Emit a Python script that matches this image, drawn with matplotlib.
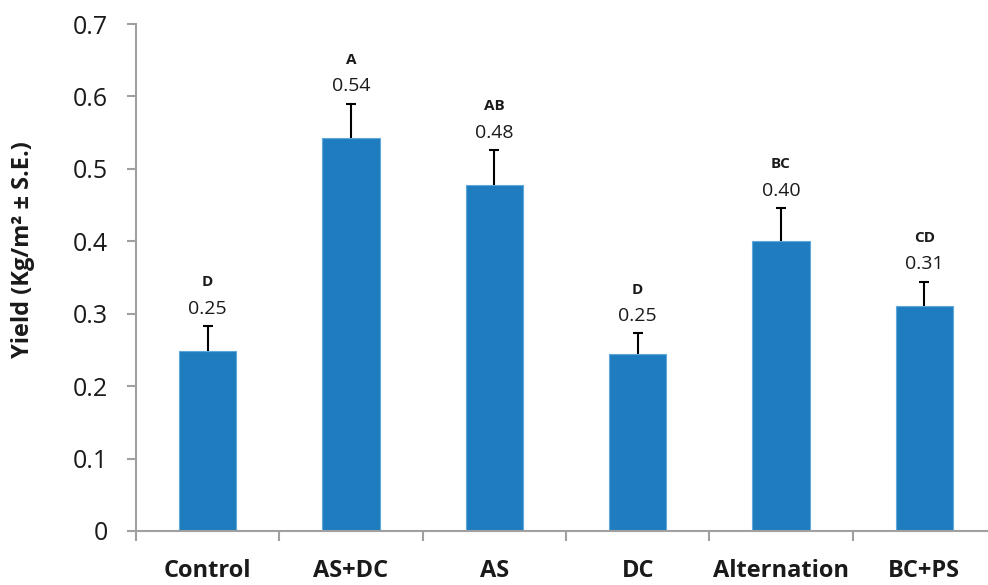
import matplotlib
matplotlib.use("Agg")
import matplotlib.pyplot as plt
import numpy as np

treatments = ["Control", "AS+DC", "AS", "DC", "Alternation", "BC+PS"]
yield_mean = [0.248, 0.543, 0.478, 0.245, 0.400, 0.310]
yield_se = [0.035, 0.047, 0.048, 0.028, 0.046, 0.034]
value_labels = ["0.25", "0.54", "0.48", "0.25", "0.40", "0.31"]
groups = ["D", "A", "AB", "D", "BC", "CD"]

plt.rcParams['font.family'] = ['Open Sans', 'DejaVu Sans']

fig = plt.figure(figsize=(9.88, 5.85), dpi=100)
ax = fig.add_axes([136/988, 54/585, 860/988, 507/585])

pos = np.arange(len(treatments))
ax.bar(pos, yield_mean, width=0.4, color='#1f7dbf', edgecolor='#5ea8de', linewidth=0.8, zorder=2)
eb = ax.errorbar(pos, yield_mean, yerr=[np.zeros(len(pos)), yield_se], fmt='none',
                 ecolor='black', elinewidth=1.5, capsize=3.5, capthick=1.5, zorder=3)
# only the upper cap, like the spreadsheet "plus" error bars
eb[1][0].set_visible(False)

for i in range(len(pos)):
    top = yield_mean[i] + yield_se[i]
    ax.annotate(value_labels[i], (pos[i], top), xytext=(0, 12.5), textcoords='offset points',
                ha='center', va='center', fontsize=14, color='#1a1a1a')
    ax.annotate(groups[i], (pos[i], top), xytext=(0, 31.5), textcoords='offset points',
                ha='center', va='center', fontsize=11, fontweight='bold', color='#1a1a1a')

ax.set_xlim(-0.5, 5.5)
ax.set_ylim(0, 0.7)
ax.set_yticks(np.arange(0, 0.71, 0.1))
ax.set_yticklabels(["0", "0.1", "0.2", "0.3", "0.4", "0.5", "0.6", "0.7"])
ax.set_xticks(pos)
ax.set_xticklabels(treatments, fontsize=17, fontweight='bold')
ax.set_xticks(np.arange(-0.5, 6, 1), minor=True)

ax.tick_params(axis='y', labelsize=18, length=6.5, width=1.5, color='#a0a0a0', pad=14, labelcolor='#1a1a1a')
ax.tick_params(axis='x', which='major', length=0, pad=20, labelcolor='#1a1a1a')
ax.tick_params(axis='x', which='minor', length=7, width=1.5, color='#a0a0a0')

for side in ['top', 'right']:
    ax.spines[side].set_visible(False)
for side in ['left', 'bottom']:
    ax.spines[side].set_color('#a0a0a0')
    ax.spines[side].set_linewidth(1.5)

fig.text(23/988, 1 - 250/585, "Yield (Kg/m² ± S.E.)", rotation=90, ha='center', va='center',
         fontsize=17, fontweight='bold', color='#1a1a1a')

fig.savefig("out.png", dpi=100)
